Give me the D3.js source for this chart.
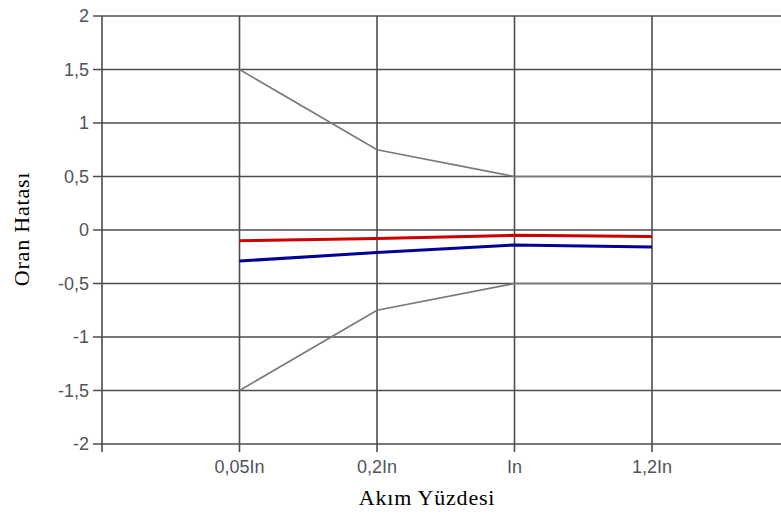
<!DOCTYPE html>
<html>
<head>
<meta charset="utf-8">
<script src="https://unpkg.com/d3@7/dist/d3.min.js"></script>
<style>
  body { margin: 0; background: #fff; }
  svg { display: block; }
</style>
</head>
<body>
<div class="chart"></div>
<script>
// categories on the x axis (slot 0 and slot 5 are empty)
const categories = ["0,05In", "0,2In", "In", "1,2In"];
const yTicks = [-2, -1.5, -1, -0.5, 0, 0.5, 1, 1.5, 2];

// series values
const redValues = [-0.1, -0.08, -0.05, -0.06];
const blueValues = [-0.29, -0.21, -0.14, -0.16];
const upperLimit = [1.5, 0.75, 0.5, 0.5];
const lowerLimit = [-1.5, -0.75, -0.5, -0.5];

const width = 781, height = 517;
const margin = { top: 16, right: -8.5, bottom: 73, left: 102 };

const svg = d3.select(".chart").append("svg")
  .attr("width", width)
  .attr("height", height);

const xScale = d3.scaleLinear()
  .domain([0, 5])
  .range([margin.left, width - margin.right]);

const yScale = d3.scaleLinear()
  .domain([-2, 2])
  .range([height - margin.bottom, margin.top]);

const gridColor = "#4d4d4d";
const labelColor = "#4f535a";

// horizontal grid lines (with ticks sticking out left)
svg.append("g")
  .selectAll("line")
  .data(yTicks)
  .join("line")
  .attr("x1", margin.left - 9)
  .attr("x2", width)
  .attr("y1", d => yScale(d))
  .attr("y2", d => yScale(d))
  .attr("stroke", gridColor)
  .attr("stroke-width", 1.6);

// vertical grid lines (with ticks below)
svg.append("g")
  .selectAll("line")
  .data([0, 1, 2, 3, 4])
  .join("line")
  .attr("x1", d => xScale(d))
  .attr("x2", d => xScale(d))
  .attr("y1", yScale(2))
  .attr("y2", yScale(-2) + 8)
  .attr("stroke", gridColor)
  .attr("stroke-width", 1.6);

// y tick labels
svg.append("g")
  .selectAll("text")
  .data(yTicks)
  .join("text")
  .attr("x", margin.left - 13)
  .attr("y", d => yScale(d))
  .attr("dy", "0.36em")
  .attr("text-anchor", "end")
  .attr("font-family", "Liberation Sans, Arial, sans-serif")
  .attr("font-size", "18px")
  .attr("fill", labelColor)
  .text(d => String(d).replace(".", ","));

// x tick labels
svg.append("g")
  .selectAll("text")
  .data(categories)
  .join("text")
  .attr("x", (d, i) => xScale(i + 1))
  .attr("y", yScale(-2) + 29)
  .attr("text-anchor", "middle")
  .attr("font-family", "Liberation Sans, Arial, sans-serif")
  .attr("font-size", "18px")
  .attr("fill", labelColor)
  .text(d => d);

const line = d3.line()
  .x((d, i) => xScale(i + 1))
  .y(d => yScale(d));

// limit lines
[upperLimit, lowerLimit].forEach(vals => {
  svg.append("path")
    .datum(vals)
    .attr("d", line)
    .attr("fill", "none")
    .attr("stroke", "#777")
    .attr("stroke-width", 1.6);
});

svg.append("path")
  .datum(blueValues)
  .attr("d", line)
  .attr("fill", "none")
  .attr("stroke", "#000099")
  .attr("stroke-width", 3);

svg.append("path")
  .datum(redValues)
  .attr("d", line)
  .attr("fill", "none")
  .attr("stroke", "#cc0000")
  .attr("stroke-width", 3);

// axis titles
svg.append("text")
  .attr("x", 427)
  .attr("y", 505)
  .attr("text-anchor", "middle")
  .attr("font-family", "Liberation Serif, Times New Roman, serif")
  .attr("font-size", "22px")
  .attr("letter-spacing", "0.8px")
  .attr("fill", "#000")
  .text("Akım Yüzdesi");

svg.append("text")
  .attr("transform", `translate(29, ${yScale(0) - 1}) rotate(-90)`)
  .attr("text-anchor", "middle")
  .attr("font-family", "Liberation Serif, Times New Roman, serif")
  .attr("font-size", "22px")
  .attr("letter-spacing", "0.8px")
  .attr("fill", "#000")
  .text("Oran Hatası");
</script>
</body>
</html>
